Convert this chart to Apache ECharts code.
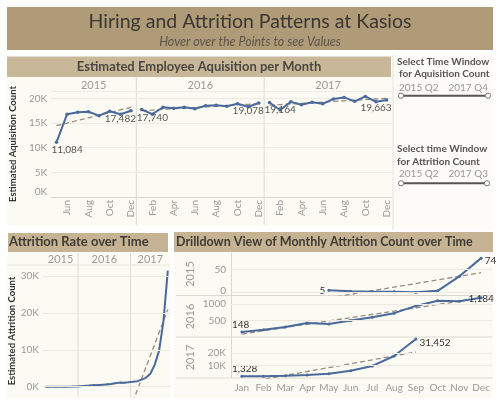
<!DOCTYPE html>
<html><head><meta charset="utf-8">
<script src="https://cdn.jsdelivr.net/npm/echarts@6/dist/echarts.min.js"></script>
<style>html,body{margin:0;padding:0;background:#fff}#c{width:500px;height:402px}</style>
</head><body><div id="c"></div>
<script>
const monthNames = ['Jan','Feb','Mar','Apr','May','Jun','Jul','Aug','Sep','Oct','Nov','Dec'];
const years = ['2015','2016','2017'];
// Estimated employee acquisition per month (2015 starts in May)
const acqStart = [4, 0, 0];
const acq2015 = [11084, 16800, 17200, 17300, 16500, 17400, 16800, 17482];
const acq2016 = [17740, 16800, 18200, 18000, 18200, 17900, 18500, 18600, 18400, 18900, 18300, 19078];
const acq2017 = [19164, 17650, 19300, 18700, 19200, 18900, 19900, 20200, 19400, 20400, 19300, 19663];
// Estimated attrition count per month (2015 from May, 2017 to Sep)
const attrStart = [4, 0, 0];
const attr2015 = [5, 3, 2, 2, 1, 4, 35, 74];
const attr2016 = [148, 221, 302, 422, 392, 500, 600, 721, 940, 1099, 1080, 1184];
const attr2017 = [1328, 1500, 1900, 2400, 3500, 5900, 9700, 17700, 31452];
// tick values
const acqTicks = [0, 5000, 10000, 15000, 20000];
const attrTicks = [0, 10000, 20000, 30000];
const drillTicks = [[0, 50], [500, 1000], [10000, 20000]];
const drillRange = [[-5, 85, 5], [0, 1240, 500], [0, 33000, 10000]];
// filter texts
const sliderAcq = ['2015 Q2', '2017 Q4'];
const sliderAttr = ['2015 Q2', '2017 Q3'];

const FONT = 'Lato, "Open Sans", sans-serif';
const BLUE = '#4a6a9c';
const TREND = '#978c7d';
const acqVals = [acq2015, acq2016, acq2017];
const attrVals = [attr2015, attr2016, attr2017];

function cats(startArr, valsArr) {
  const c = [];
  valsArr.forEach((v, y) => v.forEach((_, i) => c.push(years[y] + '-' + monthNames[startArr[y] + i])));
  return c;
}
function linreg(v) {
  const n = v.length; let sx = 0, sy = 0, sxx = 0, sxy = 0;
  v.forEach((y, i) => { sx += i; sy += y; sxx += i * i; sxy += i * y; });
  const b = (n * sxy - sx * sy) / (n * sxx - sx * sx); const a = (sy - b * sx) / n;
  return i => a + b * i;
}
const fmt = n => n.toLocaleString('en-US');
const kfmt = v => (v / 1000) + 'K';
const drillFmt = v => v >= 10000 ? kfmt(v) : String(v);

const acqCats = cats(acqStart, acqVals);
const attrCats = cats(attrStart, attrVals);

const series = [];
// ---- Top: acquisition, one line per year pane
let off = 0;
acqVals.forEach((vals, y) => {
  const data = new Array(acqCats.length).fill(null);
  const tr = new Array(acqCats.length).fill(null);
  const f = linreg(vals);
  vals.forEach((v, i) => {
    let item = v;
    if (i === 0) item = {value: v, label: {show: true, position: 'bottom', distance: 1, align: 'left', offset: [-5, 0], formatter: fmt(v)}};
    if (i === vals.length - 1) item = {value: v, label: {show: true, position: 'bottom', distance: 1, align: 'right', offset: [5, 0], formatter: fmt(v)}};
    data[off + i] = item;
    tr[off + i] = f(i);
  });
  series.push({type: 'line', xAxisIndex: 0, yAxisIndex: 0, data: tr, symbol: 'none', silent: true,
    lineStyle: {color: TREND, width: 1.3, type: [5, 3]}, z: 3});
  series.push({type: 'line', xAxisIndex: 0, yAxisIndex: 0, data, symbol: 'circle', symbolSize: 3.5,
    itemStyle: {color: BLUE}, lineStyle: {color: BLUE, width: 2}, z: 4,
    label: {color: '#555', fontSize: 10, fontFamily: FONT}});
  off += vals.length;
});
// ---- Bottom-left: attrition over time (continuous) + trend per year
const allAttr = [].concat(...attrVals);
off = 0;
attrVals.forEach((vals) => {
  const tr = new Array(attrCats.length).fill(null);
  const f = linreg(vals);
  vals.forEach((v, i) => { tr[off + i] = f(i); });
  series.push({type: 'line', xAxisIndex: 1, yAxisIndex: 1, data: tr, symbol: 'none', silent: true,
    lineStyle: {color: TREND, width: 1.3, type: [5, 3]}, z: 3});
  off += vals.length;
});
series.push({type: 'line', xAxisIndex: 1, yAxisIndex: 1, data: allAttr, symbol: 'circle', symbolSize: 3,
  itemStyle: {color: BLUE}, lineStyle: {color: BLUE, width: 2}, z: 4,
  markLine: {silent: true, symbol: 'none', label: {show: false}, lineStyle: {color: '#ece9df', type: 'solid', width: 1},
    data: attrTicks.map(v => ({yAxis: v}))}});
// ---- Drilldown rows
const drillLabels = [
  [{position: 'left', distance: 2}, {position: 'right', distance: 2, offset: [0, 3]}],
  [{position: 'top', distance: 1, align: 'left', offset: [-10, 0]}, {position: 'bottom', distance: 0, offset: [0, -6]}],
  [{position: 'top', distance: 1, align: 'left', offset: [-10, 0]}, {position: 'right', distance: 2, offset: [0, 4]}]
];
attrVals.forEach((vals, r) => {
  const data = new Array(12).fill(null);
  const tr = new Array(12).fill(null);
  const f = linreg(vals);
  vals.forEach((v, i) => {
    let item = v;
    if (i === 0) item = {value: v, label: Object.assign({show: true, formatter: fmt(v)}, drillLabels[r][0])};
    if (i === vals.length - 1) item = {value: v, label: Object.assign({show: true, formatter: fmt(v)}, drillLabels[r][1])};
    data[attrStart[r] + i] = item;
    tr[attrStart[r] + i] = f(i);
  });
  series.push({type: 'line', xAxisIndex: 2 + r, yAxisIndex: 2 + r, data: tr, symbol: 'none', silent: true,
    lineStyle: {color: TREND, width: 1.3, type: [5, 3]}, z: 3});
  series.push({type: 'line', xAxisIndex: 2 + r, yAxisIndex: 2 + r, data, symbol: 'circle', symbolSize: 3,
    itemStyle: {color: BLUE}, lineStyle: {color: BLUE, width: 2}, z: 4,
    label: {color: '#333', fontSize: 10, fontFamily: FONT},
    markLine: {silent: true, symbol: 'none', label: {show: false}, lineStyle: {color: '#ece9df', type: 'solid', width: 1},
      data: drillTicks[r].map(v => ({yAxis: v}))}});
});

const grids = [
  {left: 42, right: 108, top: 91, bottom: 205},
  {left: 43, right: 330, top: 265, bottom: 5},
  {left: 231, right: 8, top: 253, height: 42},
  {left: 231, right: 8, top: 296, height: 41},
  {left: 231, right: 8, top: 337, height: 41}
];
const xAxis = [
  {gridIndex: 0, type: 'category', data: acqCats, boundaryGap: true,
    axisLine: {show: true, lineStyle: {color: '#d9d5ca'}}, axisTick: {show: false},
    axisLabel: {interval: (i) => i % 2 === 1, rotate: 90, margin: 3, color: '#999', fontSize: 10, fontFamily: FONT,
      formatter: v => v.slice(5)}},
  {gridIndex: 1, type: 'category', data: attrCats, boundaryGap: true,
    axisLine: {show: false}, axisTick: {show: false}, axisLabel: {show: false}}
];
[0, 1, 2].forEach(r => xAxis.push({gridIndex: 2 + r, type: 'category', data: monthNames, boundaryGap: true,
  axisLine: {show: false}, axisTick: {show: false},
  axisLabel: {show: r === 2, interval: 0, margin: 5, color: '#999', fontSize: 10, fontFamily: FONT}}));

const yAxis = [
  {gridIndex: 0, type: 'value', min: 0, max: 21500, interval: 5000,
    name: 'Estimated Aquisition Count', nameLocation: 'middle', nameGap: 19, nameRotate: 90,
    nameTextStyle: {fontWeight: 'bold', fontSize: 9.5, color: '#333', fontFamily: FONT},
    axisLine: {show: false}, axisTick: {show: false},
    axisLabel: {margin: 4, color: '#999', fontSize: 10, fontFamily: FONT,
      formatter: v => v === 0 ? '{z|0K}' : (acqTicks.indexOf(v) >= 0 ? kfmt(v) : ''),
      rich: {z: {color: '#999', fontSize: 10, fontFamily: FONT, padding: [0, 0, 11, 0]}}},
    splitLine: {show: true, lineStyle: {color: '#eeebe2'}}},
  {gridIndex: 1, type: 'value', min: -2800, max: 33000,
    name: 'Estimated Attrition Count', nameLocation: 'middle', nameGap: 19, nameRotate: 90,
    nameTextStyle: {fontWeight: 'bold', fontSize: 9.5, color: '#333', fontFamily: FONT},
    axisLine: {show: false}, axisTick: {show: false}, splitLine: {show: false},
    axisLabel: {customValues: attrTicks, margin: 4, color: '#999', fontSize: 10, fontFamily: FONT, formatter: kfmt}}
];
[0, 1, 2].forEach(r => yAxis.push({gridIndex: 2 + r, type: 'value',
  min: drillRange[r][0], max: drillRange[r][1], interval: drillRange[r][2],
  axisLine: {show: true, lineStyle: {color: '#dcd8cd'}}, axisTick: {show: false}, splitLine: {show: false},
  axisLabel: {show: false}}));

const chart = echarts.init(document.getElementById('c'), null, {renderer: 'canvas'});
chart.setOption({animation: false, textStyle: {fontFamily: FONT}, grid: grids, xAxis, yAxis, series});

// ---------- decorations (layout) ----------
function txt(x, y, text, o, extra) {
  return Object.assign({type: 'text', x, y, z: 50, silent: true,
    style: Object.assign({text, fill: '#999', fontSize: 11, fontFamily: FONT, align: 'center', verticalAlign: 'middle'}, o || {})}, extra || {});
}
function rect(x, y, w, h, fill) { return {type: 'rect', z: -10, silent: true, shape: {x, y, width: w, height: h}, style: {fill}}; }
function line(x1, y1, x2, y2, stroke, w) { return {type: 'line', z: -5, silent: true, shape: {x1, y1, x2, y2}, style: {stroke, lineWidth: w || 1}}; }
function circ(cx, cy) { return {type: 'circle', z: 51, silent: true, shape: {cx, cy, r: 2.6}, style: {fill: '#fff', stroke: '#777', lineWidth: 1}}; }

const g = [];
g.push(rect(7, 7, 486, 43, '#b09b79'));
g.push(rect(7, 56.5, 384, 20.5, '#c8b799'));
g.push(rect(7, 77, 385, 148, '#fcfbf3'));
g.push(rect(393, 55, 100, 175, '#fcfbf7'));
g.push(line(393, 55, 393, 230, '#e4e1d8'));
g.push(rect(8, 233, 160, 19, '#c6b394'));
g.push(rect(7, 252, 163, 146, '#fcfbf3'));
g.push(rect(174, 232, 319, 20, '#c6b394'));
g.push(rect(174, 252, 319, 146, '#fcfbf3'));
g.push(txt(250, 22, 'Hiring and Attrition Patterns at Kasios', {fill: '#3a3630', fontSize: 19.5}));
g.push(txt(250, 42, 'Hover over the Points to see Values', {fill: '#5c5448', fontSize: 12.5, fontStyle: 'italic'}));
g.push(txt(199, 66.5, 'Estimated Employee Aquisition per Month', {fill: '#4a4640', fontSize: 13, fontWeight: 'bold'}));
g.push(txt(9, 242, 'Attrition Rate over Time', {fill: '#3e3a34', fontSize: 13, fontWeight: 'bold', align: 'left'}));
g.push(txt(176, 242, 'Drilldown View of Monthly Attrition Count over Time', {fill: '#3e3a34', fontSize: 12.5, fontWeight: 'bold', align: 'left'}));
g.push(txt(397, 62, 'Select Time Window', {fill: '#555', fontSize: 10, fontWeight: 'bold', align: 'left'}));
g.push(txt(399, 73.5, 'for Aquisition Count', {fill: '#555', fontSize: 10, fontWeight: 'bold', align: 'left'}));
g.push(txt(399, 88, sliderAcq[0], {fill: '#999', fontSize: 10, align: 'left'}));
g.push(txt(488, 88, sliderAcq[1], {fill: '#999', fontSize: 10, align: 'right'}));
g.push(line(401, 95.7, 488, 95.7, '#555', 2)); g.push(circ(401, 95.7)); g.push(circ(488, 95.7));
g.push(txt(397, 149, 'Select time Window', {fill: '#555', fontSize: 10, fontWeight: 'bold', align: 'left'}));
g.push(txt(397, 161.5, 'for Attrition Count', {fill: '#555', fontSize: 10, fontWeight: 'bold', align: 'left'}));
g.push(txt(399, 174, sliderAttr[0], {fill: '#999', fontSize: 10, align: 'left'}));
g.push(txt(488, 174, sliderAttr[1], {fill: '#999', fontSize: 10, align: 'right'}));
g.push(line(401, 183.3, 487, 183.3, '#555', 2)); g.push(circ(401, 183.3)); g.push(circ(487, 183.3));

function panes(axisIdx, catList, valsArr, yText, yTop, yBot) {
  const bw = chart.convertToPixel({xAxisIndex: axisIdx}, catList[1]) - chart.convertToPixel({xAxisIndex: axisIdx}, catList[0]);
  let o = 0;
  valsArr.forEach((vals, y) => {
    const l = chart.convertToPixel({xAxisIndex: axisIdx}, catList[o]) - bw / 2;
    const r = chart.convertToPixel({xAxisIndex: axisIdx}, catList[o + vals.length - 1]) + bw / 2;
    g.push(txt((l + r) / 2, yText, years[y], {fill: '#9a9a9a', fontSize: 11}));
    if (y < valsArr.length - 1) g.push(line(r, yTop, r, yBot, '#dedad0'));
    o += vals.length;
  });
}
panes(0, acqCats, acqVals, 85, 77, 225);
panes(1, attrCats, attrVals, 259.5, 253, 397);
g.push(line(7, 265, 170, 265, '#e6e3da'));
// drilldown tick labels and row names, placed through each row's value axis (own top layer)
[0, 1, 2].forEach(r => {
  drillTicks[r].forEach(v => {
    const py = chart.convertToPixel({yAxisIndex: 2 + r}, v);
    g.push(txt(226, py - (v === 0 ? 2 : 0), drillFmt(v), {fill: '#999', fontSize: 10, align: 'right'}, {zlevel: 1}));
  });
  const mid = chart.convertToPixel({yAxisIndex: 2 + r}, (drillRange[r][0] + drillRange[r][1]) / 2);
  g.push(txt(190, mid, years[r], {fill: '#999', fontSize: 11}, {rotation: Math.PI / 2, zlevel: 1}));
});
g.push(line(176, 295.5, 493, 295.5, '#dcd8cd'));
g.push(line(176, 337, 493, 337, '#dcd8cd'));
g.push(line(176, 378, 493, 378, '#dcd8cd'));
chart.setOption({graphic: g});
</script></body></html>
